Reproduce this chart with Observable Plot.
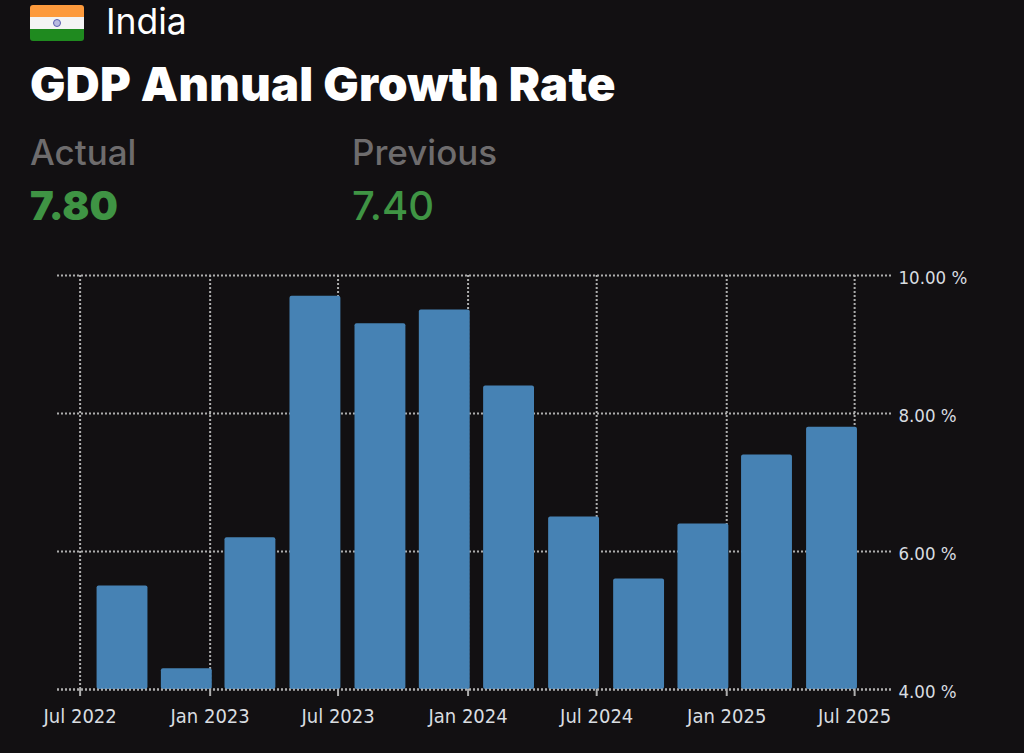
<!DOCTYPE html>
<html>
<head>
<meta charset="utf-8">
<script src="https://cdn.jsdelivr.net/npm/d3@7"></script>
<script src="https://cdn.jsdelivr.net/npm/@observablehq/plot@0.6"></script>
<style>
  html, body { margin: 0; padding: 0; background: #121012; overflow: hidden; }
  body { width: 1024px; height: 753px; font-family: Inter, "Noto Sans", sans-serif; color: #fff; }
  #header { position: relative; height: 255px; }
  #header > div { position: absolute; white-space: nowrap; line-height: 1; }
  #flag { left: 30px; top: 5px; width: 54px; height: 36px; border-radius: 3px; overflow: hidden;
          background: linear-gradient(#fd9a3c 0 33%, #f4f4f4 33% 67%, #1f8a1f 67% 100%); }
  #flag i { position: absolute; left: 23px; top: 14px; width: 6px; height: 6px; border: 1.5px solid #5a5eb0; border-radius: 50%; background: #b9bbe0; }
  #country { left: 106px; top: 4px; font-size: 35.5px; font-weight: 400; }
  #title { left: 30px; top: 60px; font-size: 47px; font-weight: 900; letter-spacing: 0.3px; }
  .lab { top: 135px; font-size: 35px; font-weight: 500; color: #6e6c6d; }
  .val { top: 186px; font-size: 40px; color: #3f9444; }
  #chart svg { display: block; }
</style>
</head>
<body>
<div id="header">
  <div id="flag"><i></i></div>
  <div id="country">India</div>
  <div id="title">GDP Annual Growth Rate</div>
  <div class="lab" style="left:30px">Actual</div>
  <div class="lab" style="left:352px">Previous</div>
  <div class="val" style="left:30px;font-weight:900">7.80</div>
  <div class="val" style="left:352px;font-weight:500">7.40</div>
</div>
<div id="chart"></div>
<script>
const periods = ["2022-09-01","2022-12-01","2023-03-01","2023-06-01","2023-09-01","2023-12-01",
                 "2024-03-01","2024-06-01","2024-09-01","2024-12-01","2025-03-01","2025-06-01"];
const growth = [5.5, 4.3, 6.2, 9.7, 9.3, 9.5, 8.4, 6.5, 5.6, 6.4, 7.4, 7.8];
const xTicks = ["2022-07-01","2023-01-01","2023-07-01","2024-01-01","2024-07-01","2025-01-01","2025-07-01"].map(d => new Date(d));
const yTicks = [4, 6, 8, 10];
const xDomain = [new Date("2022-05-30"), new Date("2025-08-25")];
const yDomain = [4, 10];

const rows = periods.map((p, i) => ({date: new Date(p), value: growth[i]}));
const grid = "#adadad";
const labelFont = '"DejaVu Sans Condensed", "DejaVu Sans", sans-serif';

const chart = Plot.plot({
  width: 1024,
  height: 498,
  marginTop: 20,
  marginBottom: 64,
  marginLeft: 57,
  marginRight: 131,
  style: {background: "transparent", color: "#d9dde0", fontFamily: labelFont},
  x: {type: "utc", domain: xDomain},
  y: {domain: yDomain},
  marks: [
    Plot.ruleX(xTicks, {stroke: grid, strokeWidth: 2, strokeDasharray: "2,2", strokeOpacity: 1}),
    Plot.ruleY(yTicks, {stroke: grid, strokeWidth: 2, strokeDasharray: "2,2", strokeOpacity: 1}),
    Plot.rectY(rows, {
      x1: d => d3.utcDay.offset(d.date, -38),
      x2: d => d3.utcDay.offset(d.date, 34),
      y1: yDomain[0],
      y2: "value",
      fill: "#4682b4",
      rx: 2
    }),
    Plot.ruleY([yDomain[0]], {stroke: grid, strokeWidth: 2, strokeDasharray: "2,2"}),
    Plot.axisX({
      ticks: xTicks,
      tickFormat: d3.utcFormat("%b %Y"),
      tickSize: 7,
      tickPadding: 12,
      stroke: grid,
      strokeWidth: 2,
      label: null,
      fontSize: 20
    }),
    Plot.axisY({
      anchor: "right",
      ticks: yTicks,
      tickFormat: d => d.toFixed(2) + " %",
      tickSize: 0,
      tickPadding: 5,
      dy: 3,
      label: null,
      fontSize: 18.5
    })
  ]
});
document.getElementById("chart").append(chart);
</script>
</body>
</html>
